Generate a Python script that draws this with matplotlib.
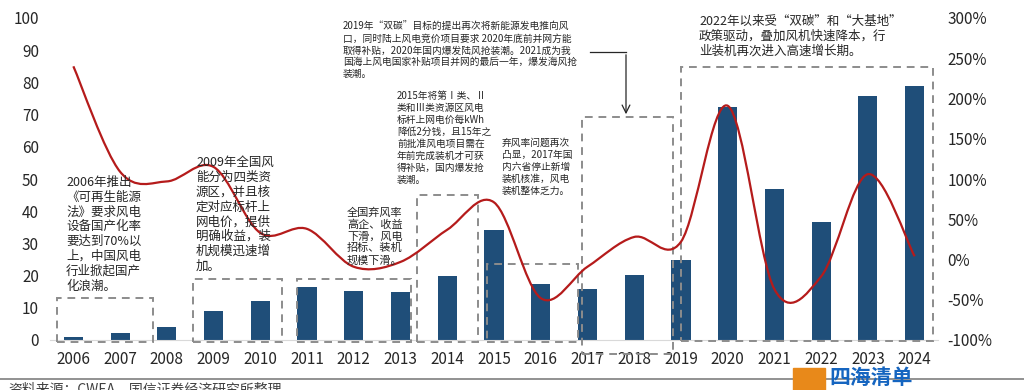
import matplotlib
matplotlib.use("Agg")
import matplotlib.pyplot as plt
import numpy as np
from matplotlib.path import Path
from matplotlib.patches import PathPatch, Rectangle

plt.rcParams['font.family'] = ['Noto Sans CJK SC', 'DejaVu Sans']

# data
years = ['2006', '2007', '2008', '2009', '2010', '2011', '2012', '2013', '2014', '2015',
         '2016', '2017', '2018', '2019', '2020', '2021', '2022', '2023', '2024']
installed = [1.0, 2.1, 4.1, 9.1, 12.0, 16.6, 15.2, 15.0, 20.0, 34.2,
             17.3, 15.8, 20.2, 24.8, 72.4, 46.9, 36.8, 75.8, 78.9]
growth = [240, 109, 97, 115, 33, 38, -9, -3, 37, 71,
          -48, -9, 28, 22, 191, -37, -21, 106, 4]

left_ticks = [0, 10, 20, 30, 40, 50, 60, 70, 80, 90, 100]
right_ticks = [-100, -50, 0, 50, 100, 150, 200, 250, 300]

notes = [
    "2006年推出\n《可再生能源\n法》要求风电\n设备国产化率\n要达到70%以\n上，中国风电\n行业掀起国产\n化浪潮。",
    "2009年全国风\n能分为四类资\n源区，并且核\n定对应标杆上\n网电价，提供\n明确收益，装\n机规模迅速增\n加。",
    "全国弃风率\n高企、收益\n下滑，风电\n招标、装机\n规模下滑。",
    "2015年将第Ⅰ类、Ⅱ\n类和Ⅲ类资源区风电\n标杆上网电价每kWh\n降低2分钱，且15年之\n前批准风电项目需在\n年前完成装机才可获\n得补贴，国内爆发抢\n装潮。",
    "弃风率问题再次\n凸显，2017年国\n内六省停止新增\n装机核准，风电\n装机整体乏力。",
    "2019年“双碳”目标的提出再次将新能源发电推向风\n口，同时陆上风电竞价项目要求 2020年底前并网方能\n取得补贴，2020年国内爆发陆风抢装潮。2021成为我\n国海上风电国家补贴项目并网的最后一年，爆发海风抢\n装潮。",
    "2022年以来受“双碳”和“大基地”\n政策驱动，叠加风机快速降本，行\n业装机再次进入高速增长期。",
]
source = "资料来源：CWEA，国信证券经济研究所整理"

# layout: note positions in pixels (x, top y, size, linespacing)
note_pos = [(66, 176, 9, 1.18), (196, 156, 9, 1.18), (347, 207, 8, 1.2),
            (397, 91, 7, 1.25), (502, 138, 7, 1.25), (343, 22, 7, 1.22), (699, 15, 9, 1.2)]
# dashed boxes in (x0, x1, y0, y1) data coords of left axis
boxes = [(-0.34, 1.71, -0.6, 13.0), (2.55, 4.47, -0.6, 18.9), (4.79, 7.23, -0.6, 18.9),
         (7.36, 8.65, -0.6, 45.0), (8.84, 10.79, -0.6, 23.6), (10.89, 12.84, -4.3, 69.3),
         (13.01, 18.39, -0.3, 84.8)]

W, H = 1024, 390
fig = plt.figure(figsize=(W / 100, H / 100), dpi=100)
ax = fig.add_axes([50 / W, 1 - 340 / H, 888 / W, 322 / H])
ax2 = ax.twinx()

x = np.arange(len(years))
ax.bar(x, installed, width=0.41, color='#1F4E79', zorder=2)
ax.set_xlim(-0.5, len(years) - 0.5)
ax.set_ylim(0, 100)
ax.set_yticks(left_ticks)
ax.set_xticks(x)
ax.set_xticklabels(years)
ax2.set_ylim(-100, 300)
ax2.set_yticks(right_ticks)
ax2.set_yticklabels([f"{t}%" for t in right_ticks])

for a in (ax, ax2):
    for s in a.spines.values():
        s.set_visible(False)
    a.tick_params(length=0, labelsize=11, colors='#262626')
ax.spines['bottom'].set_visible(True)
ax.spines['bottom'].set_color('#D9D9D9')
ax.tick_params(axis='x', pad=8)
ax.tick_params(axis='y', pad=8)
ax2.tick_params(axis='y', pad=7)

# smoothed growth line (catmull-rom as bezier path)
pts = np.column_stack([x, growth]).astype(float)
ext = np.vstack([pts[0], pts, pts[-1]])
verts = [tuple(pts[0])]
codes = [Path.MOVETO]
for i in range(len(pts) - 1):
    p0, p1, p2, p3 = ext[i], ext[i + 1], ext[i + 2], ext[i + 3]
    c1 = p1 + (p2 - p0) / 6
    c2 = p2 - (p3 - p1) / 6
    verts += [tuple(c1), tuple(c2), tuple(p2)]
    codes += [Path.CURVE4] * 3
ax2.add_patch(PathPatch(Path(verts, codes), facecolor='none', edgecolor='#B51B1B', lw=1.6, zorder=3))

for x0, x1, y0, y1 in boxes:
    ax.add_patch(Rectangle((x0, y0), x1 - x0, y1 - y0, fill=False, ls=(0, (4, 3)),
                           ec='#8C8C8C', lw=1.4, clip_on=False, zorder=4))

for t, (px, py, fs, ls) in zip(notes, note_pos):
    fig.text(px / W, 1 - py / H, t, fontsize=fs, va='top', ha='left',
             color='#262626', linespacing=ls)

# arrow from 2019 note down to the 2017-2018 box
fig.add_artist(plt.Line2D([590 / W, 626 / W], [1 - 52 / H, 1 - 52 / H], color='#262626', lw=0.9))
ax.annotate('', xy=(626, H - 117), xycoords='figure pixels', xytext=(626, H - 52),
            textcoords='figure pixels',
            arrowprops=dict(arrowstyle='->', color='#262626', lw=0.9, mutation_scale=14))

# footer
fig.add_artist(plt.Line2D([0, 1], [1 - 379 / H, 1 - 379 / H], color='#7F7F7F', lw=1.2))
fig.text(8 / W, 1 - 382 / H, source, fontsize=10, va='top', color='#404040')
fig.add_artist(Rectangle((793 / W, 0), 32 / W, 22 / H, transform=fig.transFigure,
                         color='#E8891A', zorder=5))
fig.text(829 / W, 1 - 377 / H, "四海清单", fontsize=15, fontweight='bold', va='center',
         color='#1565C0', style='italic')

fig.savefig('out.png', dpi=100)
